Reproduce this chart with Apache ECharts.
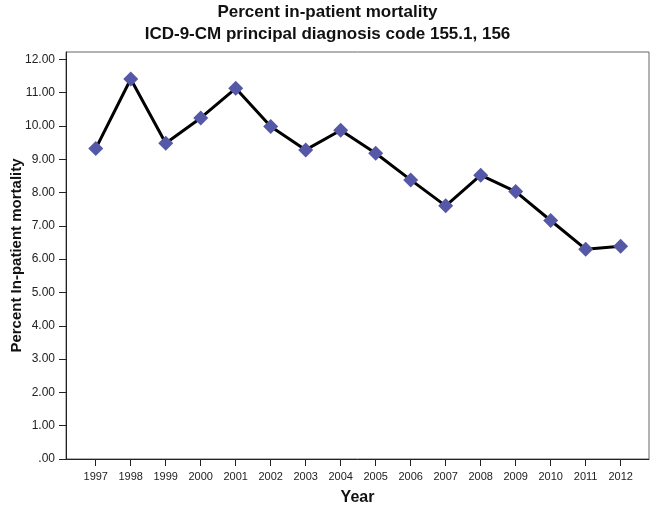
<!DOCTYPE html>
<html>
<head>
<meta charset="utf-8">
<script src="https://cdn.jsdelivr.net/npm/echarts@6/dist/echarts.min.js"></script>
<style>
  html, body { margin: 0; padding: 0; background: #fff; }
  #main { width: 655px; height: 508px; }
</style>
</head>
<body>
<div id="main"></div>
<script>
// data
var years = [1997, 1998, 1999, 2000, 2001, 2002, 2003, 2004, 2005, 2006, 2007, 2008, 2009, 2010, 2011, 2012];
var mortality = [9.32, 11.41, 9.48, 10.24, 11.13, 9.98, 9.28, 9.87, 9.18, 8.38, 7.60, 8.52, 8.03, 7.16, 6.30, 6.39];
var yTicks = [0, 1, 2, 3, 4, 5, 6, 7, 8, 9, 10, 11, 12];

var points = years.map(function (y, i) { return [y, mortality[i]]; });

var myChart = echarts.init(document.getElementById('main'));
var option = {
  backgroundColor: '#fff',
  animation: false,
  title: {
    text: 'Percent in-patient mortality\nICD-9-CM principal diagnosis code 155.1, 156',
    left: 'center',
    top: 1,
    padding: 0,
    textStyle: {
      fontFamily: 'Liberation Sans',
      fontSize: 17,
      fontWeight: 'bold',
      color: '#111',
      lineHeight: 22
    }
  },
  grid: {
    left: 66,
    right: 6,
    top: 52,
    bottom: 49,
    outerBoundsMode: 'none',
    containLabel: false,
    show: true,
    borderColor: '#666',
    borderWidth: 1
  },
  xAxis: {
    type: 'value',
    min: 1996.15,
    max: 2012.81,
    name: 'Year',
    nameLocation: 'middle',
    nameGap: 31,
    nameTextStyle: { fontFamily: 'Liberation Sans', fontSize: 16, fontWeight: 'bold', color: '#111' },
    splitLine: { show: false },
    axisLine: { show: true, lineStyle: { color: '#222', width: 1 } },
    axisTick: { show: true, length: 7, customValues: years, lineStyle: { color: '#222' } },
    axisLabel: {
      customValues: years,
      margin: 12,
      fontFamily: 'Liberation Sans',
      fontSize: 11,
      color: '#222',
      formatter: function (v) { return String(v); }
    }
  },
  yAxis: {
    type: 'value',
    min: 0,
    max: 12.22,
    name: 'Percent In-patient mortality',
    nameLocation: 'middle',
    nameGap: 42,
    nameMoveOverlap: false,
    nameTextStyle: { fontFamily: 'Liberation Sans', fontSize: 15, fontWeight: 'bold', color: '#111' },
    splitLine: { show: false },
    axisLine: { show: true, lineStyle: { color: '#222', width: 1 } },
    axisTick: { show: true, length: 7, customValues: yTicks, lineStyle: { color: '#222' } },
    axisLabel: {
      customValues: yTicks,
      margin: 11,
      fontFamily: 'Liberation Sans',
      fontSize: 12,
      color: '#222',
      formatter: function (v) {
        return v === 0 ? '.00' : v.toFixed(2);
      }
    }
  },
  series: [
    {
      type: 'line',
      data: points,
      symbol: 'diamond',
      symbolSize: 15,
      lineStyle: { color: '#000', width: 3 },
      itemStyle: { color: '#5558a6' },
      z: 3
    }
  ]
};
myChart.setOption(option);
</script>
</body>
</html>
